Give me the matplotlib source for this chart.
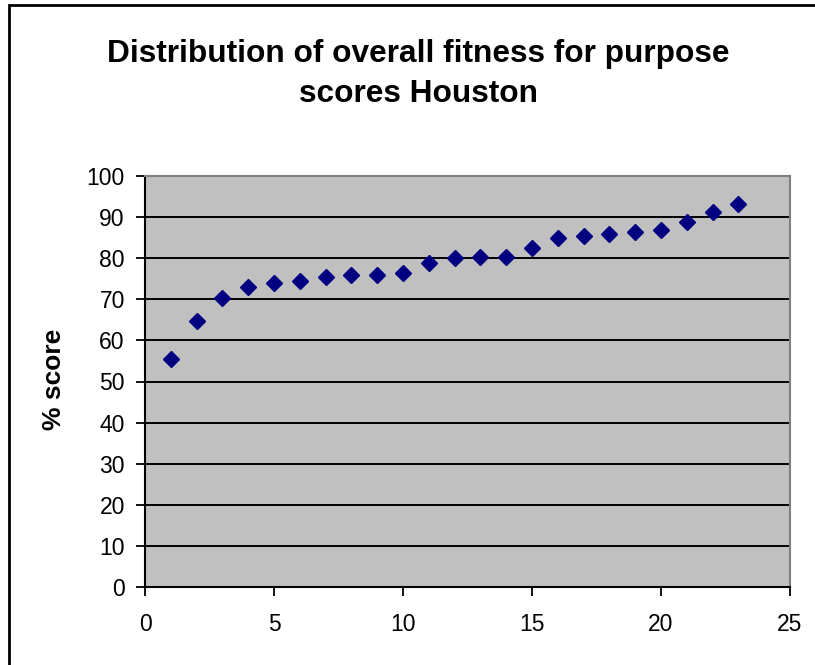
import matplotlib
matplotlib.use("Agg")
import matplotlib.pyplot as plt
from matplotlib.patches import Rectangle

plt.rcParams['font.family'] = ['Liberation Sans', 'DejaVu Sans']

rank = list(range(1, 24))
score = [55.4, 64.7, 70.4, 72.9, 73.9, 74.4, 75.4, 75.8, 75.8, 76.3, 78.8, 80.1,
         80.4, 80.4, 82.5, 84.9, 85.4, 86.0, 86.4, 86.9, 88.8, 91.3, 93.3]
x_ticks = [0, 5, 10, 15, 20, 25]
y_ticks = list(range(0, 101, 10))
title = "Distribution of overall fitness for purpose\nscores Houston"

W, H = 815, 665
fig = plt.figure(figsize=(W / 100, H / 100), dpi=100)
fig.patches.append(Rectangle((9 / W, -0.1), 1.2, 1 - 5 / H + 0.1,
                             transform=fig.transFigure, fill=False,
                             edgecolor='black', linewidth=2))

ax = fig.add_axes([145 / W, 1 - 587 / H, (790 - 145) / W, (587 - 176) / H])
ax.set_facecolor('#C0C0C0')
ax.set_xlim(0, 25)
ax.set_ylim(0, 100)
ax.set_xticks(x_ticks)
ax.set_yticks(y_ticks)
ax.yaxis.grid(True, color='black', linewidth=1.4)
ax.set_axisbelow(True)

ax.plot(rank, score, linestyle='none', marker='D', markersize=8,
        color='#000080', markeredgecolor='#000080', zorder=3, clip_on=False)

for side in ('top', 'right'):
    ax.spines[side].set_color('#808080')
    ax.spines[side].set_linewidth(1.5)
for side in ('left', 'bottom'):
    ax.spines[side].set_color('black')
    ax.spines[side].set_linewidth(1.5)

ax.tick_params(axis='both', direction='out', length=6.5, width=1.3,
               labelsize=16.5, colors='black')
ax.tick_params(axis='x', pad=12)
ax.tick_params(axis='y', pad=8)

ax.set_ylabel('% score', fontsize=19, fontweight='bold')
ax.yaxis.label.set_va('center')
ax.yaxis.set_label_coords((54 - 145) / 645, (587 - 379) / 411)

fig.text(418 / W, 1 - 74 / H, title, ha='center', va='center',
         fontsize=22.8, fontweight='bold', linespacing=1.45)

fig.savefig('out.png', dpi=100)
